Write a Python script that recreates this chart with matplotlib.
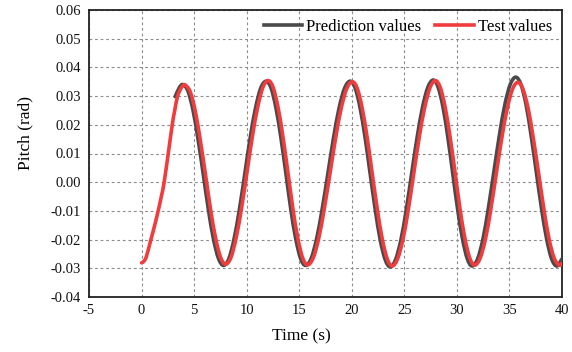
import matplotlib
matplotlib.use("Agg")
import matplotlib.pyplot as plt
from matplotlib.ticker import FormatStrFormatter
from matplotlib.path import Path
from matplotlib.patches import PathPatch

# Test values (red)
test_t = [0.0, 0.2, 0.45, 0.89, 1.25, 1.58, 1.88, 2.15, 2.54, 2.92, 3.15, 3.43, 3.75, 3.95,
          4.15, 4.63, 5.11, 5.59, 6.08, 6.56, 7.04, 7.52,
          8.0, 8.51, 9.01, 9.52, 10.03, 10.53, 11.04, 11.54,
          12.05, 12.52, 12.99, 13.46, 13.93, 14.39, 14.86, 15.33,
          15.8, 16.33, 16.86, 17.39, 17.93, 18.46, 18.99, 19.52,
          20.05, 20.53, 21.0, 21.48, 21.95, 22.43, 22.9, 23.38,
          23.85, 24.36, 24.88, 25.39, 25.9, 26.41, 26.93, 27.44,
          27.95, 28.42, 28.89, 29.36, 29.83, 30.29, 30.76, 31.23,
          31.7, 32.21, 32.73, 33.24, 33.75, 34.26, 34.78, 35.29,
          35.8, 36.29, 36.79, 37.28, 37.78, 38.27, 38.76, 39.26,
          39.75, 40.0]
test_v = [-0.0281, -0.0276, -0.0260, -0.0200, -0.0150, -0.0100, -0.0050, 0.0000, 0.0100, 0.0200, 0.0249, 0.0300, 0.0327, 0.0336,
          0.0339, 0.0315, 0.0248, 0.0146, 0.0027, -0.0093, -0.0194, -0.0262,
          -0.0286, -0.0262, -0.0192, -0.0089, 0.0034, 0.0156, 0.0260, 0.0330,
          0.0354, 0.0330, 0.0260, 0.0156, 0.0033, -0.0090, -0.0194, -0.0264,
          -0.0288, -0.0264, -0.0195, -0.0091, 0.0031, 0.0153, 0.0257, 0.0326,
          0.0350, 0.0326, 0.0256, 0.0152, 0.0029, -0.0094, -0.0198, -0.0268,
          -0.0292, -0.0267, -0.0197, -0.0093, 0.0031, 0.0155, 0.0259, 0.0329,
          0.0354, 0.0330, 0.0260, 0.0156, 0.0033, -0.0091, -0.0195, -0.0265,
          -0.0289, -0.0265, -0.0196, -0.0092, 0.0030, 0.0151, 0.0255, 0.0324,
          0.0348, 0.0324, 0.0255, 0.0151, 0.0030, -0.0092, -0.0196, -0.0265,
          -0.0289, -0.0283]

# Prediction values (dark gray)
pred_t = [3.2, 3.6, 3.95, 4.43, 4.91, 5.39, 5.88, 6.36, 6.84, 7.32,
          7.8, 8.31, 8.81, 9.32, 9.83, 10.33, 10.84, 11.34,
          11.85, 12.32, 12.79, 13.26, 13.73, 14.19, 14.66, 15.13,
          15.6, 16.13, 16.66, 17.19, 17.73, 18.26, 18.79, 19.32,
          19.85, 20.33, 20.8, 21.28, 21.75, 22.23, 22.7, 23.18,
          23.65, 24.16, 24.68, 25.19, 25.7, 26.21, 26.73, 27.24,
          27.75, 28.21, 28.68, 29.14, 29.6, 30.06, 30.53, 30.99,
          31.45, 31.97, 32.49, 33.0, 33.52, 34.04, 34.56, 35.08,
          35.6, 36.09, 36.58, 37.06, 37.55, 38.04, 38.53, 39.01,
          39.5, 40.0]
pred_v = [0.0298, 0.0330, 0.0340, 0.0316, 0.0248, 0.0146, 0.0025, -0.0096, -0.0198, -0.0266,
          -0.0290, -0.0266, -0.0196, -0.0092, 0.0031, 0.0154, 0.0258, 0.0328,
          0.0352, 0.0328, 0.0258, 0.0154, 0.0031, -0.0092, -0.0196, -0.0266,
          -0.0290, -0.0266, -0.0196, -0.0092, 0.0031, 0.0154, 0.0258, 0.0328,
          0.0352, 0.0327, 0.0257, 0.0152, 0.0029, -0.0095, -0.0200, -0.0270,
          -0.0295, -0.0270, -0.0200, -0.0094, 0.0031, 0.0155, 0.0261, 0.0331,
          0.0356, 0.0331, 0.0261, 0.0156, 0.0032, -0.0092, -0.0197, -0.0267,
          -0.0292, -0.0267, -0.0196, -0.0089, 0.0037, 0.0163, 0.0270, 0.0341,
          0.0366, 0.0341, 0.0270, 0.0163, 0.0037, -0.0089, -0.0196, -0.0267,
          -0.0292, -0.0267]

x_ticks = [-5, 0, 5, 10, 15, 20, 25, 30, 35, 40]
y_ticks = [-0.04, -0.03, -0.02, -0.01, 0.00, 0.01, 0.02, 0.03, 0.04, 0.05, 0.06]

PRED_COLOR = '#4a4a4a'
TEST_COLOR = '#f03c3c'
LW = 2.6

plt.rcParams['font.family'] = ['Liberation Serif', 'DejaVu Serif']
plt.rcParams['axes.unicode_minus'] = False


def smooth_path(xs, ys):
    """Smoothed-line rendering (Catmull-Rom as cubic Bezier) through the data points."""
    n = len(xs)
    verts = [(xs[0], ys[0])]
    codes = [Path.MOVETO]
    for i in range(n - 1):
        i0 = max(i - 1, 0)
        i3 = min(i + 2, n - 1)
        c1 = (xs[i] + (xs[i + 1] - xs[i0]) / 6.0, ys[i] + (ys[i + 1] - ys[i0]) / 6.0)
        c2 = (xs[i + 1] - (xs[i3] - xs[i]) / 6.0, ys[i + 1] - (ys[i3] - ys[i]) / 6.0)
        verts += [c1, c2, (xs[i + 1], ys[i + 1])]
        codes += [Path.CURVE4] * 3
    return Path(verts, codes)


fig = plt.figure(figsize=(5.72, 3.52), dpi=100)
ax = fig.add_axes([89/572, 1 - 297/352, 473/572, 287/352])

for xs, ys, col, lab in [(pred_t, pred_v, PRED_COLOR, 'Prediction values'),
                         (test_t, test_v, TEST_COLOR, 'Test values')]:
    patch = PathPatch(smooth_path(xs, ys), facecolor='none', edgecolor=col, lw=LW,
                      joinstyle='round', capstyle='round', transform=ax.transData, zorder=3)
    ax.add_patch(patch)
    ax.plot([], [], color=col, lw=LW, label=lab)

ax.set_xlim(-5, 40)
ax.set_ylim(-0.04, 0.06)
ax.set_xticks(x_ticks)
ax.set_yticks(y_ticks)
ax.xaxis.set_major_formatter(FormatStrFormatter('%d'))
ax.yaxis.set_major_formatter(FormatStrFormatter('%.2f'))
ax.tick_params(axis='both', length=0, labelsize=10.5, colors='#111111')
ax.tick_params(axis='y', pad=6)
ax.tick_params(axis='x', pad=5)

ax.grid(True, linestyle=(0, (2.5, 2.5)), color='#8c8c8c', lw=0.8)
for s in ax.spines.values():
    s.set_color('#222222')
    s.set_linewidth(1.3)

ax.set_xlabel('Time (s)', fontsize=12.5)
ax.set_ylabel('Pitch (rad)', fontsize=12.5)
ax.xaxis.set_label_coords(0.448, -0.108)
ax.yaxis.set_label_coords(-0.117, 0.571)

ax.legend(loc='center right', bbox_to_anchor=(0.979, 0.941), ncol=2, frameon=False,
          fontsize=12, handlelength=2.3, handletextpad=0.25, columnspacing=0.85,
          borderpad=0, borderaxespad=0)

fig.savefig('out.png', dpi=100)
